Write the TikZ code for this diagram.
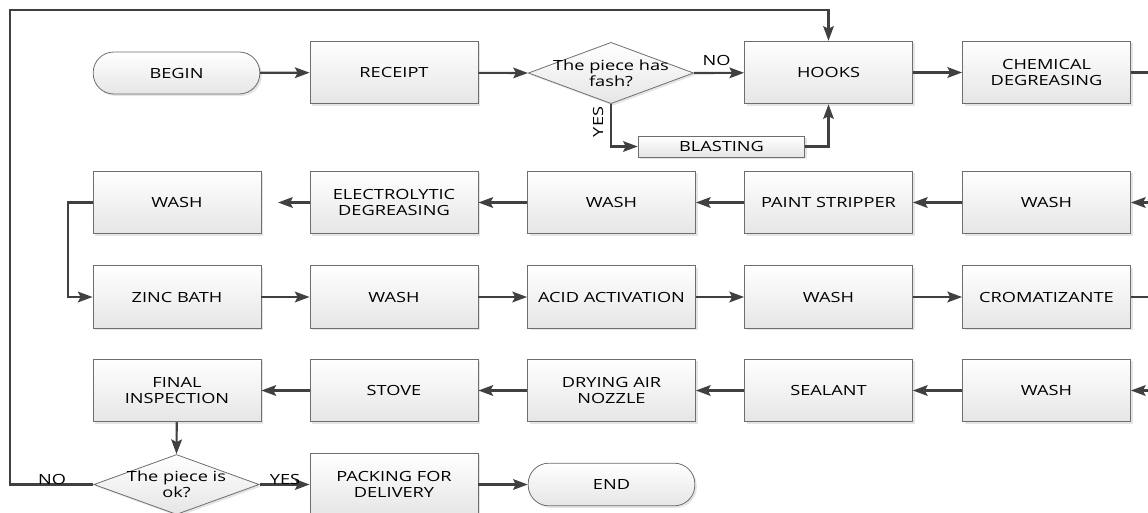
\documentclass[tikz,border=0pt]{standalone}
\usepackage{fontspec}
\setmainfont{Open Sans}[FakeStretch=1.3]
\usetikzlibrary{arrows.meta,shapes.geometric,shadows}
\definecolor{linec}{HTML}{404040}
\definecolor{boxb}{HTML}{6E6E6E}
\begin{document}
\begin{tikzpicture}[x=0.75pt,y=-0.75pt,
  txt/.style={font=\fontsize{10.5}{12}\selectfont, align=center, inner sep=0pt},
  shade/.style={top color=white, bottom color=gray!20, draw=boxb, line width=0.6pt,
     drop shadow={shadow xshift=1.5pt, shadow yshift=-1.5pt, fill=gray!40, opacity=0.5}},
  box/.style={shade, txt, minimum width=126pt, minimum height=47pt},
  term/.style={shade, txt, minimum width=125pt, minimum height=31.5pt, rounded corners=15.5pt},
  thin box/.style={shade, txt, minimum width=125pt, minimum height=15.75pt},
  decision/.style={shade, diamond, inner sep=0pt, minimum width=124pt, minimum height=46pt},
  conn/.style={draw=linec, line width=1.6pt},
  arr/.style={conn, -{Stealth[length=11pt,width=8pt,inset=2pt]}},
  lbl/.style={txt}]
\useasboundingbox (0,0) rectangle (1148,512);
\clip (0,0) rectangle (1148,512);
% row 1
\node[term] (begin) at (176.5,73) {BEGIN};
\node[box] (receipt) at (394,72.5) {RECEIPT};
\node[decision] (d1) at (611,73) {};
\node[txt] (d1t) at (d1) {The piece has\\fash?};
\node[box] (hooks) at (828.5,72.5) {HOOKS};
\node[box] (chem) at (1046.5,72.5) {CHEMICAL\\DEGREASING};
\node[thin box] (blast) at (721.5,146.5) {BLASTING};
% row 2
\node[box] (wash1) at (177,202.5) {WASH};
\node[box] (elec) at (394,202.5) {ELECTROLYTIC\\DEGREASING};
\node[box] (wash2) at (611.5,202.5) {WASH};
\node[box] (paint) at (828.5,202.5) {PAINT STRIPPER};
\node[box] (wash3) at (1046.5,202.5) {WASH};
% row 3
\node[box] (zinc) at (177,297) {ZINC BATH};
\node[box] (wash4) at (394,297) {WASH};
\node[box] (acid) at (611.5,297) {ACID ACTIVATION};
\node[box] (wash5) at (828.5,297) {WASH};
\node[box] (crom) at (1046.5,297) {CROMATIZANTE};
% row 4
\node[box] (final) at (177,390.5) {FINAL\\INSPECTION};
\node[box] (stove) at (394,390.5) {STOVE};
\node[box] (dry) at (611.5,390.5) {DRYING AIR\\NOZZLE};
\node[box] (seal) at (828.5,390.5) {SEALANT};
\node[box] (wash6) at (1046.5,390.5) {WASH};
% row 5
\node[decision, minimum height=45pt] (d2) at (176.5,484.5) {};
\node[txt] (d2t) at (d2) {The piece is\\ok?};
\node[box] (pack) at (394,484.5) {PACKING FOR\\DELIVERY};
\node[term, minimum height=32pt] (end) at (611.5,484.5) {END};
% off-page ends
\coordinate (c1) at (1160,72.5);
\coordinate (c2) at (1160,202.5);
\coordinate (c3) at (1160,297);
\coordinate (c4) at (1160,390.5);
\coordinate (lp) at (10,10);
% connectors
\draw[arr] (begin) -- (receipt);
\draw[arr] (receipt) -- (d1.west);
\draw[arr] (d1.east) -- (hooks) node[lbl, pos=0.45, above=5pt] (no1) {NO};
\draw[arr] (d1.south) |- (blast.west);
\node[lbl, rotate=90] (yes1) at (598,122) {YES};
\draw[arr] (blast.east) -| (hooks.south);
\draw[arr] (hooks) -- (chem);
\draw[conn] (chem.east) -- (c1);
\draw[arr] (c2) -- (wash3.east);
\draw[arr] (wash3) -- (paint);
\draw[arr] (paint) -- (wash2);
\draw[arr] (wash2) -- (elec);
\draw[arr, shorten >=12.5pt] (elec) -- (wash1);
\draw[arr] (wash1.west) -- +(-25,0) |- (zinc.west);
\draw[arr] (zinc) -- (wash4);
\draw[arr] (wash4) -- (acid);
\draw[arr] (acid) -- (wash5);
\draw[arr] (wash5) -- (crom);
\draw[conn] (crom.east) -- (c3);
\draw[arr] (c4) -- (wash6.east);
\draw[arr] (wash6) -- (seal);
\draw[arr] (seal) -- (dry);
\draw[arr] (dry) -- (stove);
\draw[arr] (stove) -- (final);
\draw[arr] (final) -- (d2.north);
\draw[arr] (d2.east) -- (pack.west);
\node[lbl] (yes2) at (285,479) {YES};
\draw[arr] (pack) -- (end);
\draw[arr] (d2.west) -| (lp) -| (hooks.north);
\node[lbl] (no2) at (52,479) {NO};
\end{tikzpicture}
\end{document}
